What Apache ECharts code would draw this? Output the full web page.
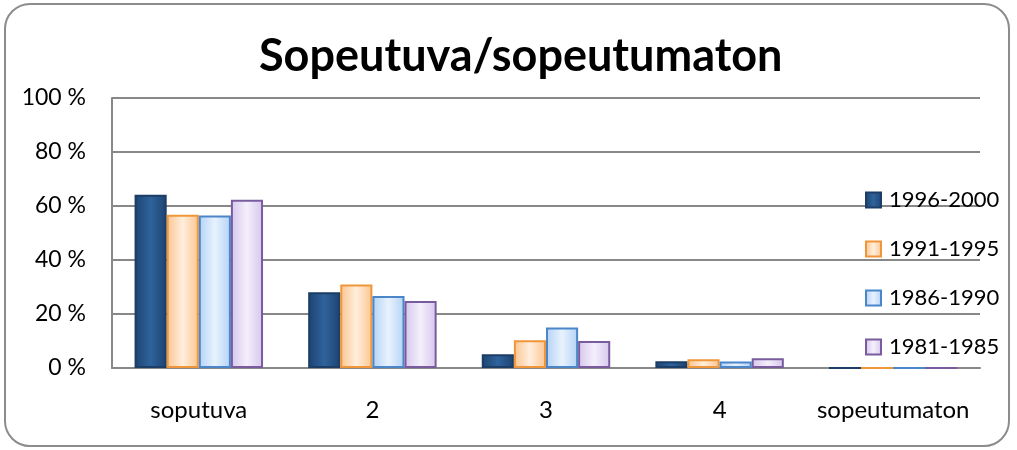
<!DOCTYPE html>
<html>
<head>
<meta charset="utf-8">
<script src="https://cdn.jsdelivr.net/npm/echarts@6/dist/echarts.min.js"></script>
<style>
  html, body { margin: 0; padding: 0; background: #fff; }
  #frame {
    position: absolute; left: 4px; top: 3px; width: 1006px; height: 444px;
    border: 2px solid #8c8c8c; border-radius: 26px; box-sizing: border-box;
  }
  #chart { position: absolute; left: 0; top: 0; width: 1017px; height: 450px; }
</style>
</head>
<body>
<div id="frame"></div>
<div id="chart"></div>
<script>
// luokat ja sarjat
const categories = ['soputuva', '2', '3', '4', 'sopeutumaton'];
const seriesNames = ['1996-2000', '1991-1995', '1986-1990', '1981-1985'];
const v1996 = [64.2, 28.1, 5.1, 2.5, 0];
const v1991 = [56.8, 30.9, 10.3, 3.2, 0];
const v1986 = [56.5, 26.7, 15.0, 2.4, 0];
const v1981 = [62.3, 24.8, 10.0, 3.6, 0];
const yTicks = [0, 20, 40, 60, 80, 100];

const values = [v1996, v1991, v1986, v1981];
// fill: edge, centre, border
const styles = [
  ['#1d4372', '#2f639c', '#1b3d66'],
  ['#fbc58f', '#ffeedd', '#f0963a'],
  ['#b3d2f5', '#e8f2fe', '#4a86c8'],
  ['#d5c6ec', '#f4effb', '#7a5c9e']
];

function grad(s) {
  return new echarts.graphic.LinearGradient(0, 0, 1, 0, [
    { offset: 0, color: s[0] },
    { offset: 0.5, color: s[1] },
    { offset: 1, color: s[0] }
  ]);
}

const chart = echarts.init(document.getElementById('chart'));
const font = 'Lato, "Open Sans", sans-serif';

chart.setOption({
  animation: false,
  title: {
    text: 'Sopeutuva/sopeutumaton',
    left: 254,
    top: 29,
    textStyle: { fontFamily: font, fontWeight: 'bold', fontSize: 45, color: '#000' }
  },
  legend: {
    orient: 'vertical',
    left: 860,
    top: 184,
    itemGap: 27,
    itemWidth: 15,
    itemHeight: 15,
    icon: 'rect',
    textStyle: { fontFamily: font, fontSize: 22, color: '#000', padding: [0, 0, 0, 3] },
    data: seriesNames
  },
  grid: { left: 112, right: 37, top: 98, bottom: 82 },
  xAxis: {
    type: 'category',
    data: categories,
    axisLine: { lineStyle: { color: '#888', width: 2 } },
    axisTick: { show: false },
    axisLabel: { interval: 0, fontFamily: font, fontSize: 24, color: '#000', margin: 30 }
  },
  yAxis: {
    type: 'value',
    min: yTicks[0],
    max: yTicks[yTicks.length - 1],
    interval: 20,
    axisLine: { show: true, lineStyle: { color: '#888', width: 2 } },
    axisTick: { show: false },
    splitLine: { lineStyle: { color: '#888', width: 2 } },
    axisLabel: { fontFamily: font, fontSize: 23, color: '#000', margin: 26, formatter: '{value} %' }
  },
  series: seriesNames.map((name, i) => ({
    name: name,
    type: 'bar',
    data: values[i],
    barGap: '0%',
    barCategoryGap: '26%',
    itemStyle: { color: grad(styles[i]), borderColor: styles[i][2], borderWidth: 2 }
  }))
});
</script>
</body>
</html>
